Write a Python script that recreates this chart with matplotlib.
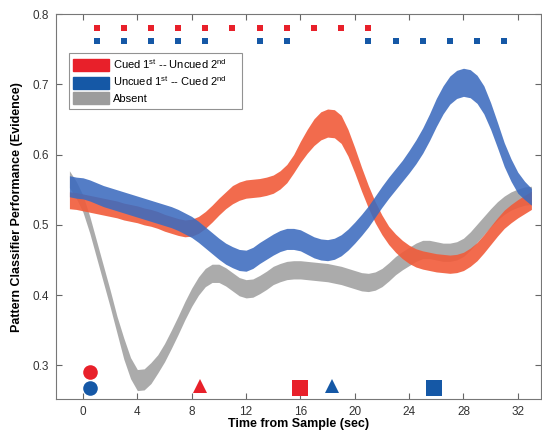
import matplotlib
matplotlib.use("Agg")
import matplotlib.pyplot as plt
from matplotlib.patches import Patch
import numpy as np

plt.rcParams['font.family'] = ['Liberation Sans', 'DejaVu Sans']
plt.rcParams['mathtext.fontset'] = 'custom'
plt.rcParams['mathtext.rm'] = 'Liberation Sans'

# time axis (sec), half-second samples from -1 to 33
t = np.arange(-1, 33.5, 0.5)

# Cued 1st -- Uncued 2nd : mean and half-width of band
red_mean = [0.535, 0.534, 0.532, 0.530, 0.528, 0.526, 0.524, 0.522, 0.519, 0.517,
            0.515, 0.512, 0.510, 0.507, 0.503, 0.500, 0.497, 0.495, 0.496, 0.500,
            0.507, 0.516, 0.526, 0.535, 0.543, 0.548, 0.551, 0.552, 0.553, 0.555,
            0.558, 0.564, 0.573, 0.587, 0.604, 0.619, 0.632, 0.641, 0.645, 0.644,
            0.636, 0.617, 0.592, 0.565, 0.540, 0.518, 0.500, 0.485, 0.474, 0.465,
            0.458, 0.453, 0.450, 0.448, 0.446, 0.445, 0.444, 0.445, 0.448, 0.454,
            0.462, 0.473, 0.485, 0.497, 0.508, 0.516, 0.523, 0.529, 0.535]
red_sem = ([0.012] * 24 + [0.013] * 10 +
           [0.015, 0.017, 0.019, 0.020, 0.020, 0.020, 0.020, 0.019, 0.018, 0.017,
            0.016, 0.015, 0.014] + [0.013] * 22)

# Uncued 1st -- Cued 2nd
blue_mean = [0.555, 0.553, 0.552, 0.549, 0.545, 0.541, 0.538, 0.535, 0.532, 0.529,
             0.526, 0.523, 0.520, 0.517, 0.514, 0.511, 0.507, 0.502, 0.497, 0.490,
             0.482, 0.474, 0.466, 0.459, 0.454, 0.450, 0.449, 0.453, 0.460, 0.466,
             0.472, 0.477, 0.480, 0.480, 0.478, 0.473, 0.468, 0.465, 0.464, 0.466,
             0.471, 0.479, 0.489, 0.500, 0.512, 0.526, 0.540, 0.553, 0.565, 0.577,
             0.590, 0.604, 0.620, 0.639, 0.660, 0.678, 0.692, 0.700, 0.703, 0.701,
             0.693, 0.678, 0.655, 0.628, 0.600, 0.578, 0.560, 0.549, 0.540]
blue_sem = ([0.015] * 50 + [0.016, 0.017, 0.018, 0.019] + [0.020] * 8 +
            [0.019, 0.018, 0.017, 0.016, 0.015, 0.013, 0.012])

# Absent
gray_mean = [0.565, 0.550, 0.530, 0.500, 0.465, 0.430, 0.395, 0.358, 0.324, 0.296,
             0.279, 0.280, 0.289, 0.302, 0.318, 0.337, 0.357, 0.378, 0.397, 0.413,
             0.425, 0.431, 0.431, 0.426, 0.419, 0.412, 0.409, 0.410, 0.415, 0.421,
             0.428, 0.432, 0.435, 0.436, 0.436, 0.435, 0.434, 0.433, 0.432, 0.430,
             0.428, 0.425, 0.422, 0.419, 0.418, 0.420, 0.425, 0.433, 0.442, 0.449,
             0.455, 0.461, 0.465, 0.465, 0.463, 0.461, 0.461, 0.463, 0.468, 0.477,
             0.488, 0.499, 0.510, 0.520, 0.528, 0.534, 0.538, 0.541, 0.542]
gray_sem = [0.012] * 8 + [0.015] * 5 + [0.013] * 56

# significant time points
red_sig = [1, 3, 5, 7, 9, 11, 13, 15, 17, 19, 21]
blue_sig = [1, 3, 5, 7, 9, 13, 15, 21, 23, 25, 27, 29, 31]

# event markers along the bottom: (time, level)
red_onset = (0.55, 0.290)
blue_onset = (0.55, 0.268)
red_tri = (8.6, 0.270)
red_sq = (16.0, 0.268)
blue_tri = (18.3, 0.270)
blue_sq = (25.8, 0.268)

c_red = '#f15b3a'
c_blue = '#3c6bbf'
c_gray = '#a7a7a7'
m_red = '#e8202a'
m_blue = '#1558a6'


def band(ax, mean, sem, color, alpha):
    mean = np.array(mean)
    sem = np.array(sem)
    ax.fill_between(t, mean - sem, mean + sem, color=color, alpha=alpha, lw=0)


fig = plt.figure(figsize=(5.42, 4.30), dpi=100)
ax = fig.add_axes([0.103, 0.072, 0.895, 0.895])

band(ax, gray_mean, gray_sem, c_gray, 0.95)
band(ax, red_mean, red_sem, c_red, 0.9)
band(ax, blue_mean, blue_sem, c_blue, 0.88)

ax.plot(red_sig, [0.781] * len(red_sig), 's', color=m_red, ms=3.8, mew=0)
ax.plot(blue_sig, [0.7615] * len(blue_sig), 's', color=m_blue, ms=3.8, mew=0)

ax.plot(*red_onset, 'o', color=m_red, ms=10.5, mew=0)
ax.plot(*blue_onset, 'o', color=m_blue, ms=10.5, mew=0)
ax.plot(*red_tri, '^', color=m_red, ms=9.5, mew=0)
ax.plot(*blue_tri, '^', color=m_blue, ms=9.5, mew=0)
ax.plot(*red_sq, 's', color=m_red, ms=11.5, mew=0)
ax.plot(*blue_sq, 's', color=m_blue, ms=12, mew=0)

ax.set_xlim(-2, 33.7)
ax.set_ylim(0.252, 0.8)
ax.set_xticks([0, 4, 8, 12, 16, 20, 24, 28, 32])
ax.set_yticks([0.3, 0.4, 0.5, 0.6, 0.7, 0.8])
ax.set_yticklabels(['0.3', '0.4', '0.5', '0.6', '0.7', '0.8'])
ax.tick_params(direction='in', top=True, right=True, length=4, width=0.8,
               labelsize=8.5, labelcolor='#333333', color='#666666', pad=5)
for s in ax.spines.values():
    s.set_color('#777777')
    s.set_linewidth(0.8)

ax.set_xlabel('Time from Sample (sec)', fontsize=9, fontweight='bold', labelpad=0)
ax.set_ylabel('Pattern Classifier Performance (Evidence)', fontsize=9,
              fontweight='bold', labelpad=7)

handles = [Patch(color=m_red), Patch(color=m_blue), Patch(color='#9c9c9c')]
labels = [r'Cued 1$^{\mathrm{st}}$ -- Uncued 2$^{\mathrm{nd}}$' + '    ',
          r'Uncued 1$^{\mathrm{st}}$ -- Cued 2$^{\mathrm{nd}}$',
          'Absent']
leg = ax.legend(handles, labels, loc='upper left', bbox_to_anchor=(0.027, 0.9),
                fontsize=8, frameon=True, fancybox=False, edgecolor='#777777',
                handlelength=3.2, handleheight=1.3, handletextpad=0.4,
                labelspacing=0.3, borderpad=0.4, borderaxespad=0)
leg.get_frame().set_linewidth(0.8)

fig.savefig('out.png', dpi=100)
